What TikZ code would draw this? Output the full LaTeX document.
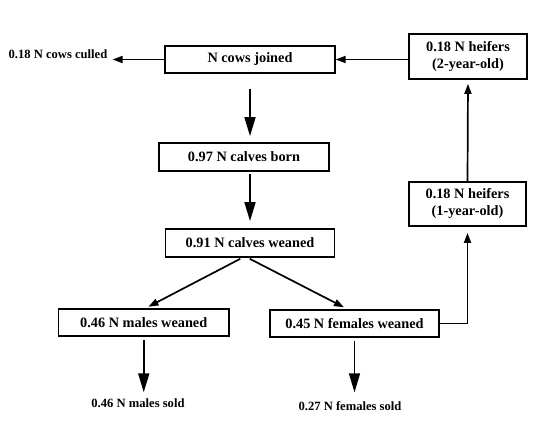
\documentclass[tikz,border=0pt]{standalone}
\usepackage{fontspec}
\setmainfont{Liberation Serif}
\usetikzlibrary{arrows.meta}

\tikzstyle{box}=[draw=black, line width=1.8pt, inner sep=0pt, align=center,
  font=\bfseries\fontsize{14.3}{17}\selectfont]
\tikzstyle{outlabel}=[inner sep=1pt, font=\bfseries\fontsize{12.6}{15}\selectfont]
\tikzstyle{bigarrow}=[line width=1.7pt, -{Triangle[length=19pt,width=11pt]}]
\tikzstyle{smallarrow}=[line width=1.7pt, -{Triangle[length=10pt,width=7pt]}]

\begin{document}
\begin{tikzpicture}[x=1pt,y=-1pt]
\useasboundingbox (0,0) rectangle (543,435);

	\node[box, minimum width=169.5pt, minimum height=27pt] (cows) at (250,59.5) {N cows joined};
	\node[box, minimum width=118pt, minimum height=45pt] (heifertwo) at (468,56.5) {0.18 N heifers\\(2-year-old)};
	\node[box, minimum width=170pt, minimum height=28pt] (born) at (244,157) {0.97 N calves born};
	\node[box, minimum width=169pt, minimum height=28pt] (weaned) at (250,243) {0.91 N calves weaned};
	\node[box, minimum width=117pt, minimum height=44pt] (heiferone) at (467.5,204) {0.18 N heifers\\(1-year-old)};
	\node[box, minimum width=170.5pt, minimum height=27pt] (males) at (143.75,322.5) {0.46 N males weaned};
	\node[box, minimum width=169pt, minimum height=27pt] (females) at (354.5,323.5) {0.45 N females weaned};

	\node[outlabel] (culled) at (58,54) {0.18 N cows culled};
	\node[outlabel] (malessold) at (138,403) {0.46 N males sold};
	\node[outlabel] (femalessold) at (350,406) {0.27 N females sold};

	% main line of the herd
	\draw[bigarrow, shorten <=15pt, shorten >=6pt] (cows.south) -- (cows.south |- born.north);
	\draw[bigarrow, shorten <=2pt, shorten >=7pt] (weaned.north |- born.south) -- (weaned.north);
	\draw[smallarrow, shorten <=2pt, shorten >=3pt] ([xshift=-8pt]weaned.south) -- ([xshift=2pt]males.north);
	\draw[smallarrow, shorten <=2pt, shorten >=4pt] ([xshift=-2pt]weaned.south) -- ([xshift=-7pt]females.north);
	\draw[bigarrow, shorten <=3pt, shorten >=5pt] (males.south) -- (males.south |- malessold.north);
	\draw[bigarrow, shorten <=3pt, shorten >=8pt] (females.south) -- (females.south |- femalessold.north);

	% replacements and culls
	\draw[smallarrow, shorten >=6pt] (females.east) -| (heiferone.south);
	\draw[smallarrow, shorten >=4pt] (heiferone.north) -- (heifertwo.south);
	\draw[smallarrow] (cows.east -| heifertwo.west) -- (cows.east);
	\draw[smallarrow, shorten >=4pt] (cows.west) -- (cows.west -| culled.east);
\end{tikzpicture}
\end{document}
